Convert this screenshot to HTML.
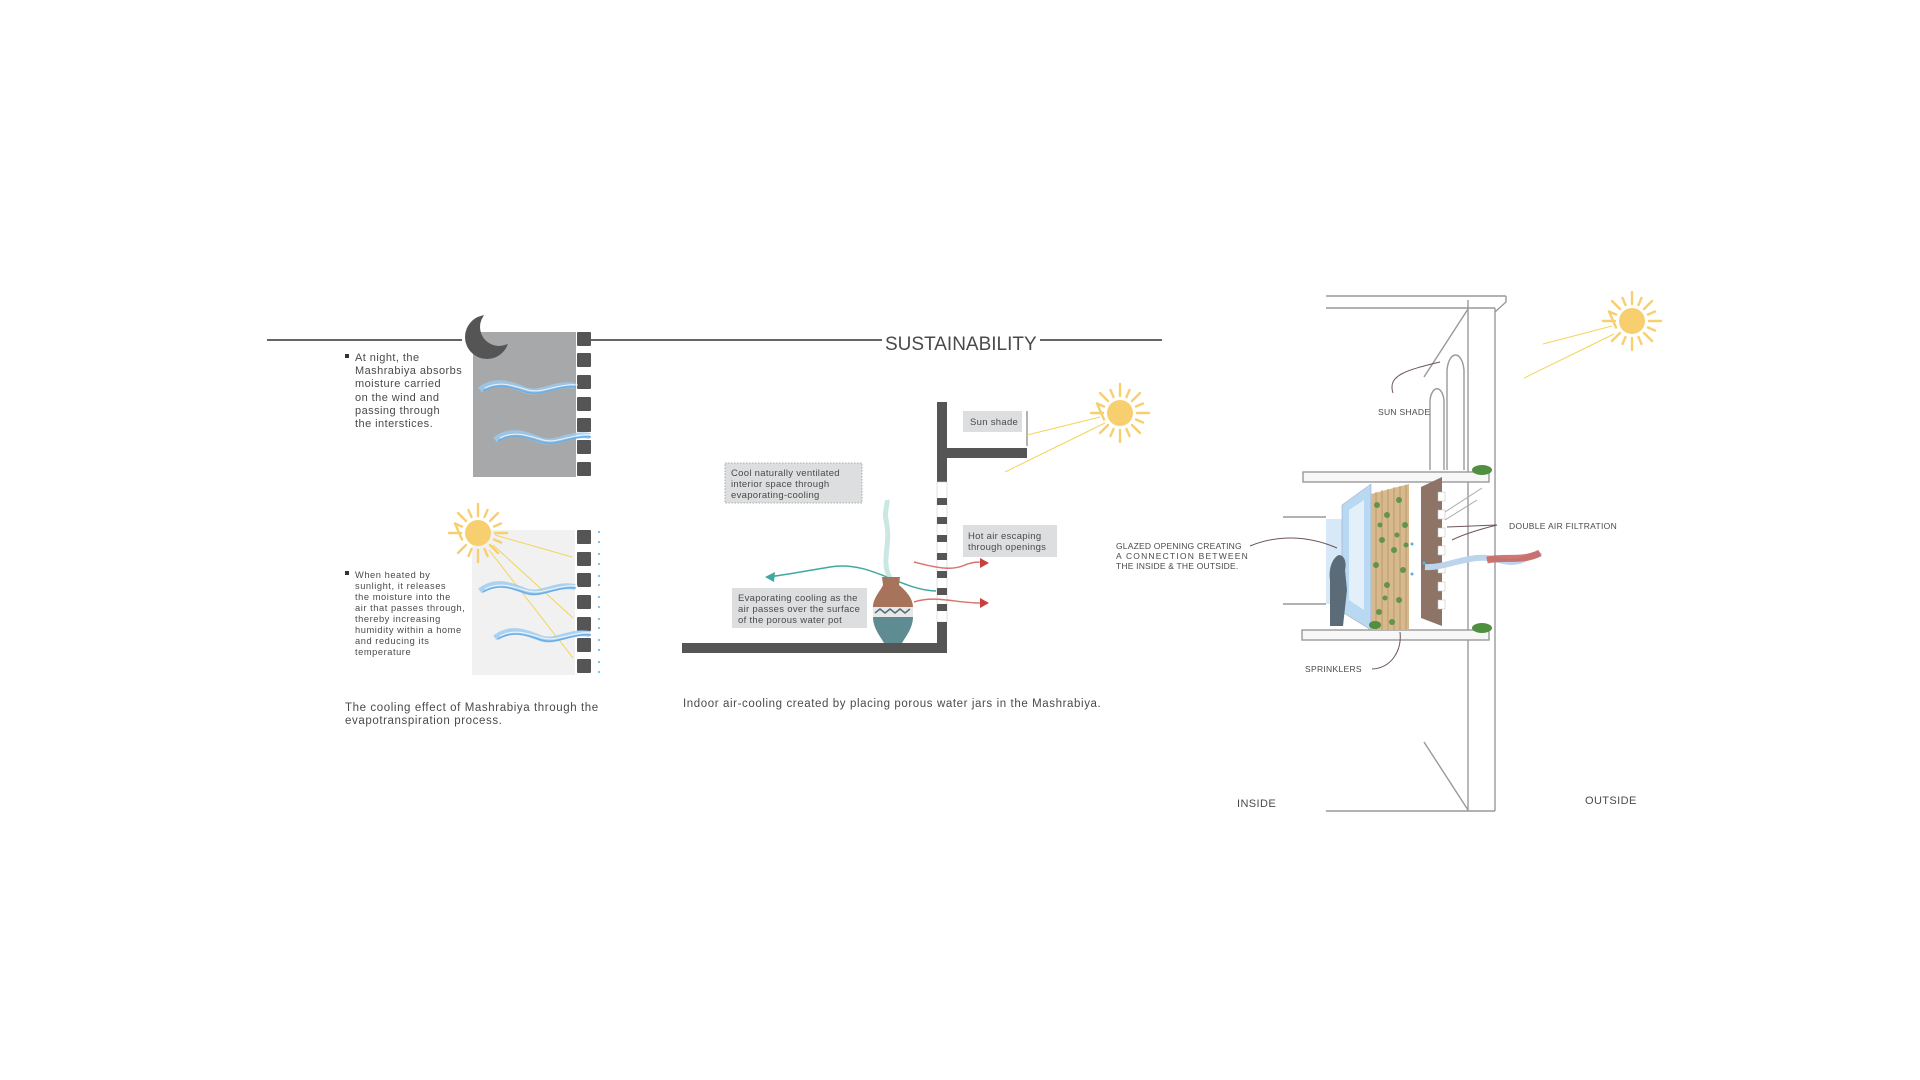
<!DOCTYPE html>
<html><head><meta charset="utf-8"><style>
html,body{margin:0;padding:0;background:#fff;}
svg{display:block;}
text{font-family:"Liberation Sans",sans-serif;fill:#4a4a4a;}
</style></head><body>
<svg width="1920" height="1080" viewBox="0 0 1920 1080" xmlns="http://www.w3.org/2000/svg">
<defs>
<g id="sun">
  <circle r="13" fill="#f7cf6e"/>
  <g stroke="#f7cf6e" stroke-width="2.4" stroke-linecap="round">
    <line x1="0" y1="-17" x2="0" y2="-29"/><line x1="0" y1="17" x2="0" y2="29"/>
    <line x1="-17" y1="0" x2="-29" y2="0"/><line x1="17" y1="0" x2="29" y2="0"/>
    <line x1="12" y1="12" x2="20" y2="20"/><line x1="-12" y1="-12" x2="-20" y2="-20"/>
    <line x1="12" y1="-12" x2="20" y2="-20"/><line x1="-12" y1="12" x2="-20" y2="20"/>
    <line x1="6.5" y1="-16" x2="9.5" y2="-23"/><line x1="-6.5" y1="16" x2="-9.5" y2="23"/>
    <line x1="16" y1="6.5" x2="23" y2="9.5"/><line x1="-16" y1="-6.5" x2="-23" y2="-9.5"/>
    <line x1="-6.5" y1="-16" x2="-9.5" y2="-23"/><line x1="6.5" y1="16" x2="9.5" y2="23"/>
    <line x1="16" y1="-6.5" x2="23" y2="-9.5"/><line x1="-16" y1="6.5" x2="-23" y2="-9.5"/>
  </g>
</g>
<g id="wave">
  <path d="M0 8 C15 -4 30 2 45 8 C60 14 75 0 95 4" fill="none" stroke="#9ccbf0" stroke-width="6" opacity="0.8"/>
  <path d="M3 9 C18 0 32 5 46 10 C62 15 76 3 96 5" fill="none" stroke="#6aaee6" stroke-width="1.5"/>
  <path d="M5 6 C20 -2 34 4 48 8 C62 12 78 1 98 3" fill="none" stroke="#ffffff" stroke-width="1" opacity="0.8"/>
</g>
<mask id="moonmask">
  <rect x="440" y="300" width="100" height="80" fill="#fff"/>
  <circle cx="499" cy="327" r="19" fill="#000"/>
</mask>
</defs>

<!-- title line -->
<line x1="267" y1="340" x2="462" y2="340" stroke="#666" stroke-width="2"/>
<line x1="590" y1="340" x2="882" y2="340" stroke="#666" stroke-width="2"/>
<line x1="1040" y1="340" x2="1162" y2="340" stroke="#666" stroke-width="2"/>
<text x="885" y="350" font-size="19" fill="#444">SUSTAINABILITY</text>

<!-- LEFT: night panel -->
<rect x="473" y="332" width="103" height="145" fill="#a7a8aa"/>
<g fill="#555">
  <rect x="577" y="332" width="14" height="14" rx="1"/><rect x="577" y="353" width="14" height="14" rx="1"/>
  <rect x="577" y="375" width="14" height="14" rx="1"/><rect x="577" y="397" width="14" height="14" rx="1"/>
  <rect x="577" y="418" width="14" height="14" rx="1"/><rect x="577" y="440" width="14" height="14" rx="1"/>
  <rect x="577" y="462" width="14" height="14" rx="1"/>
</g>
<circle cx="487" cy="337" r="22" fill="#555" mask="url(#moonmask)"/>
<use href="#wave" x="480" y="382"/>
<use href="#wave" x="495" y="432"/>
<g fill="#4a4a4a" font-size="11" letter-spacing="0.45">
<rect x="345" y="354" width="4" height="4" fill="#333"/>
<text x="355" y="361">At night, the</text>
<text x="355" y="374">Mashrabiya absorbs</text>
<text x="355" y="387">moisture carried</text>
<text x="355" y="401">on the wind and</text>
<text x="355" y="414">passing through</text>
<text x="355" y="427">the interstices.</text>
</g>

<!-- LEFT: day panel -->
<rect x="472" y="530" width="103" height="145" fill="#f1f1f1"/>
<g fill="#555">
  <rect x="577" y="530" width="14" height="14" rx="1"/><rect x="577" y="552" width="14" height="14" rx="1"/>
  <rect x="577" y="573" width="14" height="14" rx="1"/><rect x="577" y="595" width="14" height="14" rx="1"/>
  <rect x="577" y="617" width="14" height="14" rx="1"/><rect x="577" y="638" width="14" height="14" rx="1"/>
  <rect x="577" y="659" width="14" height="14" rx="1"/>
</g>
<g stroke="#f2d55a" stroke-width="1">
  <line x1="495" y1="535" x2="572" y2="557"/>
  <line x1="493" y1="545" x2="573" y2="618"/>
  <line x1="489" y1="550" x2="573" y2="658"/>
</g>
<g fill="#5ab0ea">
  <circle cx="599" cy="532" r="1"/><circle cx="599" cy="542" r="1"/><circle cx="599" cy="554" r="1"/><circle cx="599" cy="564" r="1"/>
  <circle cx="599" cy="576" r="1"/><circle cx="599" cy="585" r="1"/><circle cx="599" cy="597" r="1"/><circle cx="599" cy="607" r="1"/>
  <circle cx="599" cy="619" r="1"/><circle cx="599" cy="628" r="1"/><circle cx="599" cy="640" r="1"/><circle cx="599" cy="650" r="1"/>
  <circle cx="599" cy="662" r="1"/><circle cx="599" cy="672" r="1"/>
</g>
<use href="#wave" x="480" y="583"/>
<use href="#wave" x="495" y="630"/>
<use href="#sun" x="478" y="533"/>
<g font-size="9.3" letter-spacing="0.55">
<rect x="345" y="571" width="4" height="4" fill="#333"/>
<text x="355" y="578">When heated by</text>
<text x="355" y="589">sunlight, it releases</text>
<text x="355" y="600">the moisture into the</text>
<text x="355" y="611">air that passes through,</text>
<text x="355" y="622">thereby increasing</text>
<text x="355" y="633">humidity within a home</text>
<text x="355" y="644">and reducing its</text>
<text x="355" y="655">temperature</text>
</g>
<g font-size="11.5" letter-spacing="0.6">
<text x="345" y="711">The cooling effect of Mashrabiya through the</text>
<text x="345" y="724">evapotranspiration process.</text>
</g>

<!-- MIDDLE -->
<rect x="937" y="402" width="10" height="80" fill="#555"/>
<rect x="947" y="448" width="80" height="10" fill="#555"/>
<rect x="937" y="482" width="10" height="140" fill="#fff" stroke="#ccc" stroke-width="0.6"/>
<g fill="#555">
  <rect x="937" y="498" width="10" height="7"/><rect x="937" y="517" width="10" height="7"/>
  <rect x="937" y="535" width="10" height="7"/><rect x="937" y="553" width="10" height="7"/>
  <rect x="937" y="571" width="10" height="7"/><rect x="937" y="588" width="10" height="7"/>
  <rect x="937" y="604" width="10" height="7"/>
</g>
<rect x="937" y="622" width="10" height="31" fill="#555"/>
<rect x="682" y="643" width="265" height="10" fill="#555"/>

<rect x="963" y="411" width="59" height="21" fill="#dcdedf"/>
<text x="970" y="425" font-size="9.5" letter-spacing="0.3">Sun shade</text>
<polyline points="1027,411 1027,446" fill="none" stroke="#444" stroke-width="0.8"/>
<use href="#sun" x="1120" y="413"/>
<g stroke="#f2d55a" stroke-width="1"><line x1="1100" y1="417" x2="1027" y2="435"/><line x1="1105" y1="423" x2="1005" y2="472"/></g>

<rect x="725" y="463" width="137" height="40" fill="#dcdedf" stroke="#999" stroke-width="0.8" stroke-dasharray="1.5,1.5"/>
<g font-size="9.5" letter-spacing="0.3"><text x="731" y="476">Cool naturally ventilated</text><text x="731" y="487">interior space through</text><text x="731" y="498">evaporating-cooling</text></g>

<rect x="963" y="525" width="94" height="32" fill="#dcdedf"/>
<g font-size="9.5" letter-spacing="0.3"><text x="968" y="539">Hot air escaping</text><text x="968" y="550">through openings</text></g>

<rect x="732" y="588" width="135" height="40" fill="#dcdedf"/>
<g font-size="9.5" letter-spacing="0.3"><text x="738" y="601">Evaporating cooling as the</text><text x="738" y="612">air passes over the surface</text><text x="738" y="623">of the porous water pot</text></g>

<!-- arrows -->
<path d="M936 591 C900 590 870 560 830 567 C800 572 785 575 768 577" fill="none" stroke="#3fa9a0" stroke-width="1.5"/>
<polygon points="765,577 775,572 774,582" fill="#3fa9a0"/>
<path d="M914 562 C930 566 950 572 965 565 C975 561 982 562 980 563" fill="none" stroke="#d9736e" stroke-width="1.5"/>
<polygon points="989,563 980,558 980,568" fill="#c9403a"/>
<path d="M914 602 C935 595 955 603 980 603" fill="none" stroke="#d9736e" stroke-width="1.5"/>
<polygon points="989,603 980,598 980,608" fill="#c9403a"/>
<path d="M890 578 C880 560 892 545 886 520 C884 510 888 505 887 500" fill="none" stroke="#b5ddd6" stroke-width="5" opacity="0.7"/>
<path d="M882 577 L900 577 L899 585 C905 590 913 598 913 607 L873 607 C873 598 881 590 883 585 Z" fill="#a8735b"/>
<rect x="873" y="607" width="40" height="10" fill="#e8e8e8"/>
<polyline points="875,613 880,609 885,613 890,609 895,613 900,609 905,613 910,609" fill="none" stroke="#4f7178" stroke-width="1.5"/>
<path d="M873 617 L913 617 C913 628 906 636 902 643 L884 643 C880 636 873 628 873 617 Z" fill="#5f8b92"/>

<text x="683" y="707" font-size="11.5" letter-spacing="0.6">Indoor air-cooling created by placing porous water jars in the Mashrabiya.</text>

<!-- RIGHT building -->
<g transform="translate(-13,0)">
<g fill="none" stroke="#999" stroke-width="1.4">
  <line x1="1339" y1="296" x2="1519" y2="296"/>
  <line x1="1339" y1="308" x2="1508" y2="308"/>
  <path d="M1519 296 L1519 302 L1508 312"/>
  <line x1="1481" y1="300" x2="1481" y2="811"/>
  <line x1="1508" y1="308" x2="1508" y2="811"/>
  <line x1="1339" y1="811" x2="1508" y2="811"/>
  <line x1="1481" y1="309" x2="1437" y2="377"/>
  <line x1="1437" y1="742" x2="1481" y2="810"/>
  <path d="M1443 470 L1443 400 C1445 385 1455 385 1457 400 L1457 470"/>
  <path d="M1460 470 L1460 370 C1462 350 1475 350 1477 370 L1477 470"/>
  <rect x="1316" y="472" width="186" height="10" fill="#f7f7f7"/>
  <rect x="1315" y="630" width="187" height="10" fill="#f7f7f7"/>
  <line x1="1296" y1="517" x2="1339" y2="517"/>
  <line x1="1296" y1="604" x2="1339" y2="604"/>
</g>
<rect x="1339" y="519" width="19" height="85" fill="#d7e8f6"/>
<polygon points="1355,505 1384,484 1384,630 1355,612" fill="#b9d8f1" stroke="#99b" stroke-width="0.5"/>
<polygon points="1362,510 1377,500 1377,610 1362,600" fill="#fff" opacity="0.6"/>
<path d="M1343 626 L1343 580 C1341 565 1348 556 1352 555 C1357 555 1360 562 1358 570 L1360 590 L1356 626 Z" fill="#5b6c78"/>
<polygon points="1384,494 1422,484 1422,630 1384,630" fill="#d7b98f"/>
<g stroke="#b8915e" stroke-width="0.8">
<line x1="1389" y1="492" x2="1389" y2="630"/><line x1="1395" y1="490" x2="1395" y2="630"/><line x1="1401" y1="489" x2="1401" y2="630"/>
<line x1="1407" y1="487" x2="1407" y2="630"/><line x1="1413" y1="486" x2="1413" y2="630"/><line x1="1419" y1="485" x2="1419" y2="630"/>
</g>
<g fill="#4f8f3f" opacity="0.85">
<circle cx="1390" cy="505" r="3"/><circle cx="1400" cy="515" r="3"/><circle cx="1412" cy="500" r="3"/><circle cx="1418" cy="525" r="3"/>
<circle cx="1395" cy="540" r="3"/><circle cx="1407" cy="550" r="3"/><circle cx="1389" cy="565" r="3"/><circle cx="1416" cy="570" r="3"/>
<circle cx="1400" cy="585" r="3"/><circle cx="1412" cy="600" r="3"/><circle cx="1392" cy="612" r="3"/><circle cx="1405" cy="622" r="3"/>
<circle cx="1419" cy="545" r="2.5"/><circle cx="1393" cy="525" r="2.5"/><circle cx="1410" cy="535" r="2.5"/><circle cx="1398" cy="598" r="2.5"/>
</g>
<polygon points="1434,487 1455,477 1455,626 1434,618" fill="#8e7466"/>
<g fill="#fff" stroke="#bbb" stroke-width="0.5">
<rect x="1451" y="492" width="7" height="9"/><rect x="1451" y="510" width="7" height="9"/><rect x="1451" y="528" width="7" height="9"/>
<rect x="1451" y="546" width="7" height="9"/><rect x="1451" y="564" width="7" height="9"/><rect x="1451" y="582" width="7" height="9"/>
<rect x="1451" y="600" width="7" height="9"/>
</g>
<g stroke="#aaa" fill="none" stroke-width="1"><line x1="1458" y1="512" x2="1495" y2="488"/><line x1="1458" y1="520" x2="1490" y2="500"/></g>
<g fill="#4f8f3f"><ellipse cx="1495" cy="470" rx="10" ry="5"/><ellipse cx="1495" cy="628" rx="10" ry="5"/><ellipse cx="1388" cy="625" rx="6" ry="4"/></g>
<path d="M1438 567 C1455 568 1470 560 1490 558 C1510 556 1520 566 1535 560 C1545 556 1550 552 1553 556" fill="none" stroke="#bcd4ec" stroke-width="6"/>
<path d="M1500 560 C1520 556 1535 562 1553 553" fill="none" stroke="#c8605a" stroke-width="7" opacity="0.85"/>
<g fill="#5ab0ea"><circle cx="1425" cy="544" r="1.5"/><circle cx="1437" cy="563" r="1.5"/><circle cx="1425" cy="574" r="1.5"/></g>
<g fill="none" stroke="#6d5557" stroke-width="1">
<path d="M1406 393 C1400 375 1420 370 1453 362"/>
<path d="M1263 546 C1290 535 1320 535 1350 548"/>
<path d="M1385 669 C1405 668 1415 650 1413 632"/>
<path d="M1510 525 L1460 527"/>
<path d="M1510 525 C1490 530 1475 535 1465 540"/>
</g>
<g font-size="8.5" fill="#555" letter-spacing="0.3">
<text x="1391" y="415">SUN SHADE</text>
<text x="1522" y="529">DOUBLE AIR FILTRATION</text>
<text x="1318" y="672">SPRINKLERS</text>
</g>
<text x="1250" y="807" font-size="11" fill="#555" letter-spacing="0.4">INSIDE</text>
<text x="1598" y="804" font-size="11" fill="#555" letter-spacing="0.4">OUTSIDE</text>
<use href="#sun" x="1645" y="321"/>
<g stroke="#f2d55a" stroke-width="1"><line x1="1625" y1="326" x2="1556" y2="344"/><line x1="1627" y1="334" x2="1537" y2="378"/></g>
</g>
<g font-size="8.5" fill="#555" letter-spacing="0.2">
<text x="1116" y="549">GLAZED OPENING CREATING</text>
<text x="1116" y="559" textLength="132" lengthAdjust="spacing">A  CONNECTION  BETWEEN</text>
<text x="1116" y="569">THE INSIDE &amp; THE OUTSIDE.</text>
</g>
</svg>
</body></html>
